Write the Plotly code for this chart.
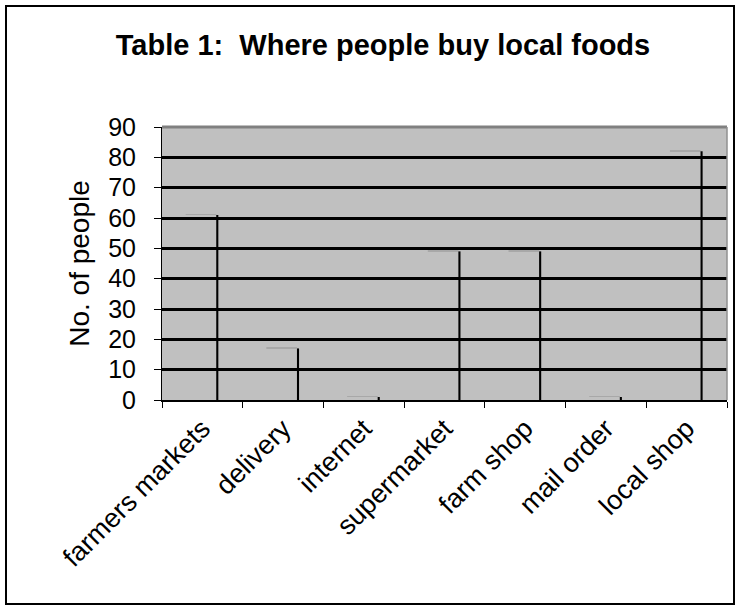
import plotly.graph_objects as go

categories = ["farmers markets", "delivery", "internet", "supermarket", "farm shop", "mail order", "local shop"]
values = [61, 17, 1, 49, 49, 1, 82]
y_ticks = [0, 10, 20, 30, 40, 50, 60, 70, 80, 90]

W, H = 736, 607
L, R, T, B = 162, 9, 127, 207
pw, ph = W - L - R, H - T - B

def px_x(p):
    return (p - L) / pw

def px_y(p):
    return (H - B - p) / ph

fig = go.Figure()

# thin grey top edge of each (invisible) bar
fig.add_trace(go.Bar(
    x=categories, y=[0.3] * len(values), base=values,
    width=0.38, offset=-0.207,
    marker=dict(color="#A8A8A8", line=dict(width=0)),
    hoverinfo="skip", showlegend=False,
))
# black right edge of each bar
fig.add_trace(go.Bar(
    x=categories, y=values,
    width=0.026, offset=0.172,
    marker=dict(color="#000000", line=dict(width=0)),
    showlegend=False,
))

fig.update_layout(
    width=W, height=H,
    margin=dict(l=L, r=R, t=T, b=B),
    paper_bgcolor="white",
    plot_bgcolor="#C0C0C0",
    barmode="overlay",
    font=dict(family="Liberation Sans, Arial, sans-serif", color="black"),
    title=dict(
        text="Table 1:\u00a0 Where people buy local foods",
        font=dict(family="Liberation Sans, Arial", size=29, color="black", weight="bold"),
        x=383 / W, xanchor="center", y=1 - 45 / H, yanchor="middle",
    ),
    xaxis=dict(
        type="category",
        categoryorder="array", categoryarray=categories,
        range=[-0.5, len(categories) - 0.5],
        tickson="boundaries", ticks="outside", ticklen=6, tickcolor="black", tickwidth=1,
        showgrid=False,
        showline=True, linecolor="black", linewidth=2,
        tickangle=-45,
        tickfont=dict(family="Liberation Sans, Arial", size=27, color="black"),
    ),
    yaxis=dict(
        range=[0, 90],
        tickvals=y_ticks,
        ticks="outside", ticklen=7, tickcolor="black", tickwidth=1,
        showgrid=True, gridcolor="black", gridwidth=2.5,
        showline=True, linecolor="black", linewidth=1,
        zeroline=False,
        tickfont=dict(size=25, color="black"),
        ticklabelstandoff=13,
        title=dict(text="No. of people", font=dict(size=28, color="black"), standoff=10),
    ),
    shapes=[
        # plot area top and right edges (grey)
        dict(type="line", xref="paper", yref="paper", x0=0, x1=1, y0=1, y1=1,
             line=dict(color="#808080", width=3), layer="above"),
        dict(type="line", xref="paper", yref="paper", x0=1, x1=1, y0=0, y1=1,
             line=dict(color="#909090", width=1.5), layer="above"),
        # outer chart frame
        dict(type="rect", xref="paper", yref="paper",
             x0=px_x(6), x1=px_x(734), y0=px_y(604), y1=px_y(6),
             line=dict(color="black", width=2), fillcolor="rgba(0,0,0,0)", layer="above"),
    ],
)

fig.write_html("out.html")
